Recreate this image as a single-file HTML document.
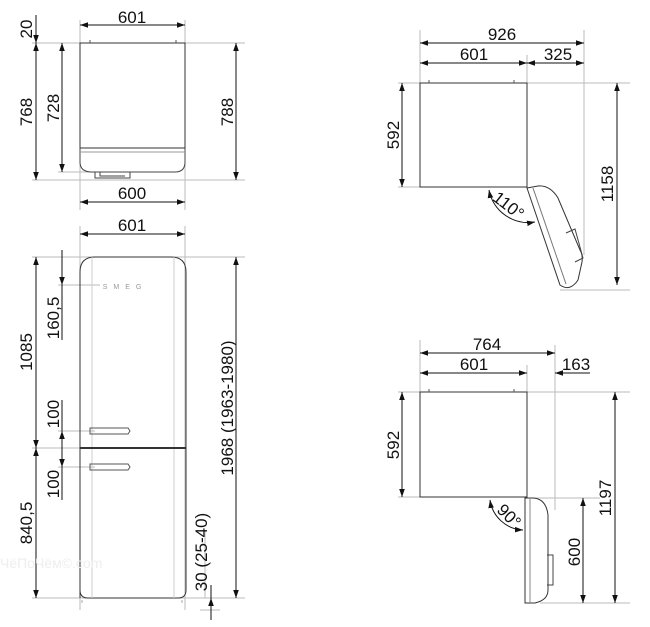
<!DOCTYPE html>
<html><head><style>body{margin:0;background:#fff}svg{display:block}text{font-family:"Liberation Sans",sans-serif;font-size:17px;fill:#111}</style></head><body>
<svg width="650" height="627" viewBox="0 0 650 627" xmlns="http://www.w3.org/2000/svg">
<defs>
<marker id="a" viewBox="0 0 10 10" refX="10" refY="5" markerWidth="8" markerHeight="8" orient="auto-start-reverse"><path d="M0,1.5 L10,5 L0,8.5 z" fill="#111"/></marker>
</defs>
<g stroke="#bbb" stroke-width="1" fill="none">
<path d="M80,20V210 M185,20V210 M32,43H245 M32,180H245 M58,172H90"/>
<path d="M80,226V610 M185,226V610 M32,257H245 M32,448H80 M58,285H100 M58,431H95 M58,467H95 M32,598H245 M200,610H220 M205,530V598"/>
<path d="M420,30V83 M584,30V255 M527,55V83 M398,83H630 M398,187H420 M560,290H630"/>
<path d="M420,340V392 M527,365V392 M555,345V510 M398,392H630 M398,497H420 M530,498H600 M540,603H630"/>
</g>
<g stroke="#111" stroke-width="1" fill="none">
<path d="M80,25H185" marker-start="url(#a)" marker-end="url(#a)"/>
<path d="M36,15V43" marker-end="url(#a)"/>
<path d="M36,43V180" marker-start="url(#a)" marker-end="url(#a)"/>
<path d="M62,43V172" marker-start="url(#a)" marker-end="url(#a)"/>
<path d="M236,43V180" marker-start="url(#a)" marker-end="url(#a)"/>
<path d="M80,202H185" marker-start="url(#a)" marker-end="url(#a)"/>
<rect x="80" y="43" width="105" height="105" stroke="#333"/>
<path d="M80,148V162Q80,172 92,172H175Q185,172 185,162V148" stroke="#444"/>
<path d="M80,152H185" stroke="#999"/>
<path d="M95,172V178H130V172 M100,172V176H125" stroke="#444"/>
<path d="M90,43V40 M176,43V40" stroke="#555"/>
<path d="M80,234H185" marker-start="url(#a)" marker-end="url(#a)"/>
<path d="M36,257V448" marker-start="url(#a)" marker-end="url(#a)"/>
<path d="M36,448V598" marker-start="url(#a)" marker-end="url(#a)"/>
<path d="M62,250V285" marker-end="url(#a)"/>
<path d="M62,270V340" />
<path d="M62,400V448" />
<path d="M62,448V431" marker-end="url(#a)"/>
<path d="M62,448V467" marker-end="url(#a)"/>
<path d="M62,467V500"/>
<path d="M236,257V598" marker-start="url(#a)" marker-end="url(#a)"/>
<path d="M211,620V598" marker-end="url(#a)"/>
<path d="M211,610V585"/>
<path d="M80,598V272Q80,257 95,257H171Q186,257 186,272V590Q186,598 178,598H88Q80,598 80,590" stroke="#333"/>
<path d="M92,257V598 M174,257V598" stroke="#ccc"/>
<path d="M80,448H186" stroke="#333" stroke-width="2"/>
<path d="M90,428H128L130,431L128,434H90Z M90,464H128L130,467L128,470H90Z" stroke="#555"/>
<path d="M82,600V603 M182,600V603" stroke="#aaa"/>
<path d="M420,43H584" marker-start="url(#a)" marker-end="url(#a)"/>
<path d="M420,63H527" marker-start="url(#a)" marker-end="url(#a)"/>
<path d="M527,63H584" marker-start="url(#a)" marker-end="url(#a)"/>
<path d="M402,83V187" marker-start="url(#a)" marker-end="url(#a)"/>
<path d="M617,83V285" marker-start="url(#a)" marker-end="url(#a)"/>
<rect x="420" y="83" width="107" height="104" stroke="#333"/>
<path d="M429,83V80 M514,83V80" stroke="#555"/>
<path d="M527,188L560,285Q570,292 578,280L582,262Q583,255 580,250L558,198Q550,185 538,186Z" stroke="#333"/>
<path d="M533,188L566,284" stroke="#777"/>
<path d="M566,233L575,229L583,258L575,262" stroke="#444"/>
<path d="M489,190A40,40 0 0,0 535,222" marker-start="url(#a)" marker-end="url(#a)"/>
<path d="M420,353H555" marker-start="url(#a)" marker-end="url(#a)"/>
<path d="M420,373H527" marker-start="url(#a)" marker-end="url(#a)"/>
<path d="M590,373H555" marker-end="url(#a)"/>
<path d="M402,392V497" marker-start="url(#a)" marker-end="url(#a)"/>
<path d="M615,392V603" marker-start="url(#a)" marker-end="url(#a)"/>
<path d="M583,498V603" marker-start="url(#a)" marker-end="url(#a)"/>
<rect x="420" y="392" width="107" height="105" stroke="#333"/>
<path d="M429,392V389 M514,392V389" stroke="#555"/>
<path d="M525,498V603H535Q548,600 548,590V515Q546,498 532,498Z" stroke="#333"/>
<path d="M530,498V603" stroke="#888"/>
<path d="M547,555H553V585H547" stroke="#444"/>
<path d="M490,500A35,35 0 0,0 523,530" marker-start="url(#a)" marker-end="url(#a)"/>
</g>
<g>
<text x="132" y="23" text-anchor="middle">601</text>
<text transform="translate(32,29) rotate(-90)" text-anchor="middle">20</text>
<text transform="translate(32,112) rotate(-90)" text-anchor="middle">768</text>
<text transform="translate(59,108) rotate(-90)" text-anchor="middle">728</text>
<text transform="translate(233,112) rotate(-90)" text-anchor="middle">788</text>
<text x="132" y="199" text-anchor="middle">600</text>
<text x="132" y="231" text-anchor="middle">601</text>
<text transform="translate(32,352) rotate(-90)" text-anchor="middle">1085</text>
<text transform="translate(59,318) rotate(-90)" text-anchor="middle">160,5</text>
<text transform="translate(59,414) rotate(-90)" text-anchor="middle">100</text>
<text transform="translate(59,484) rotate(-90)" text-anchor="middle">100</text>
<text transform="translate(32,523) rotate(-90)" text-anchor="middle">840,5</text>
<text transform="translate(233,408) rotate(-90)" text-anchor="middle">1968 (1963-1980)</text>
<text transform="translate(207,552) rotate(-90)" text-anchor="middle">30 (25-40)</text>
<text x="125" y="289" text-anchor="middle" style="font-size:7px;fill:#999;letter-spacing:6px">SMEG</text>
<text x="0" y="568" style="font-size:14px;fill:#eee">ЧёПоЧём©.com</text>
<text x="502" y="40" text-anchor="middle">926</text>
<text x="474" y="60" text-anchor="middle">601</text>
<text x="558" y="60" text-anchor="middle">325</text>
<text transform="translate(399,135) rotate(-90)" text-anchor="middle">592</text>
<text transform="translate(613,184) rotate(-90)" text-anchor="middle">1158</text>
<text transform="translate(505,210) rotate(38)" text-anchor="middle">110°</text>
<text x="487" y="350" text-anchor="middle">764</text>
<text x="474" y="370" text-anchor="middle">601</text>
<text x="576" y="370" text-anchor="middle">163</text>
<text transform="translate(399,445) rotate(-90)" text-anchor="middle">592</text>
<text transform="translate(611,498) rotate(-90)" text-anchor="middle">1197</text>
<text transform="translate(580,552) rotate(-90)" text-anchor="middle">600</text>
<text transform="translate(505,520) rotate(45)" text-anchor="middle">90°</text>
</g>
</svg>
</body></html>
